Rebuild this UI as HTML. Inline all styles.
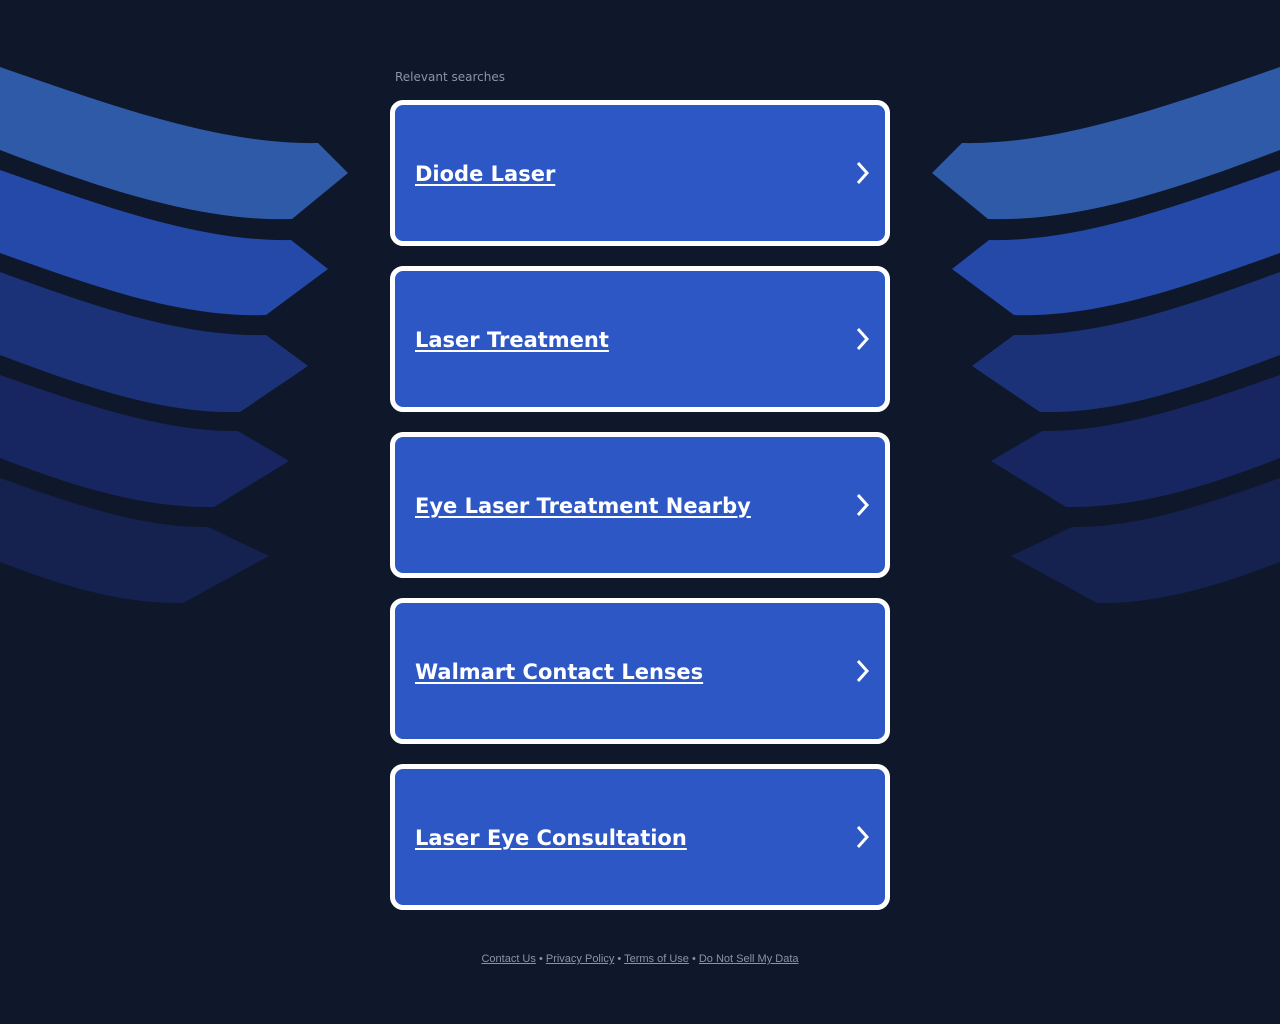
<!DOCTYPE html>
<html><head><style>
html,body{margin:0;padding:0;width:1280px;height:1024px;background:#0f172b;overflow:hidden;font-family:"DejaVu Sans","Liberation Sans",sans-serif}
svg.bg{position:absolute;left:0;top:0}
.lbl{position:absolute;left:395px;top:70px;font-size:12px;color:#8b93a6}
.box{position:absolute;left:390px;width:490px;height:136px;border:5px solid #fff;border-radius:13px;background:#2c57c4;}
.box span{position:absolute;left:20px;top:50%;transform:translateY(-50%);margin-top:1px;font-size:21px;font-weight:bold;color:#fff;text-decoration:underline;text-decoration-thickness:2px;text-underline-offset:3px}
.box svg{position:absolute;right:15px;top:56px}
.foot{position:absolute;left:0;width:1280px;top:953px;text-align:center;font-family:"Liberation Sans",sans-serif;font-size:11px;color:#8b93a6}
.foot a{color:#8b93a6;text-decoration:underline}
</style></head><body>
<svg class="bg" width="1280" height="1024">
<g id="L">
<path d="M0,67 C110,105 220,145 318,143 L348,173 L292,219 C200,222 100,188 0,150 Z" fill="#2f5aa8"/>
<path d="M0,170 C100,205 200,242 291,240 L328,269 L266,315 C180,318 90,285 0,253 Z" fill="#2549a8"/>
<path d="M0,272 C90,305 180,337 266,335 L308,366 L240,412 C160,414 80,385 0,355 Z" fill="#1c3278"/>
<path d="M0,375 C85,405 165,432 238,431 L289,461 L214,507 C140,508 70,485 0,458 Z" fill="#172660"/>
<path d="M0,478 C75,505 145,528 208,527 L269,556 L183,603 C120,604 60,585 0,562 Z" fill="#15214f"/>
</g>
<use href="#L" transform="translate(1280,0) scale(-1,1)"/>
</svg>
<div class="lbl">Relevant searches</div>
<div class="box" style="top:100px"><span>Diode Laser</span><svg width="14" height="24"><path d="M2,2 L11,12 L2,22" stroke="#fff" stroke-width="3" fill="none"/></svg></div>
<div class="box" style="top:266px"><span>Laser Treatment</span><svg width="14" height="24"><path d="M2,2 L11,12 L2,22" stroke="#fff" stroke-width="3" fill="none"/></svg></div>
<div class="box" style="top:432px"><span>Eye Laser Treatment Nearby</span><svg width="14" height="24"><path d="M2,2 L11,12 L2,22" stroke="#fff" stroke-width="3" fill="none"/></svg></div>
<div class="box" style="top:598px"><span>Walmart Contact Lenses</span><svg width="14" height="24"><path d="M2,2 L11,12 L2,22" stroke="#fff" stroke-width="3" fill="none"/></svg></div>
<div class="box" style="top:764px"><span>Laser Eye Consultation</span><svg width="14" height="24"><path d="M2,2 L11,12 L2,22" stroke="#fff" stroke-width="3" fill="none"/></svg></div>
<div class="foot"><a>Contact Us</a> • <a>Privacy Policy</a> • <a>Terms of Use</a> • <a>Do Not Sell My Data</a></div>
</body></html>
